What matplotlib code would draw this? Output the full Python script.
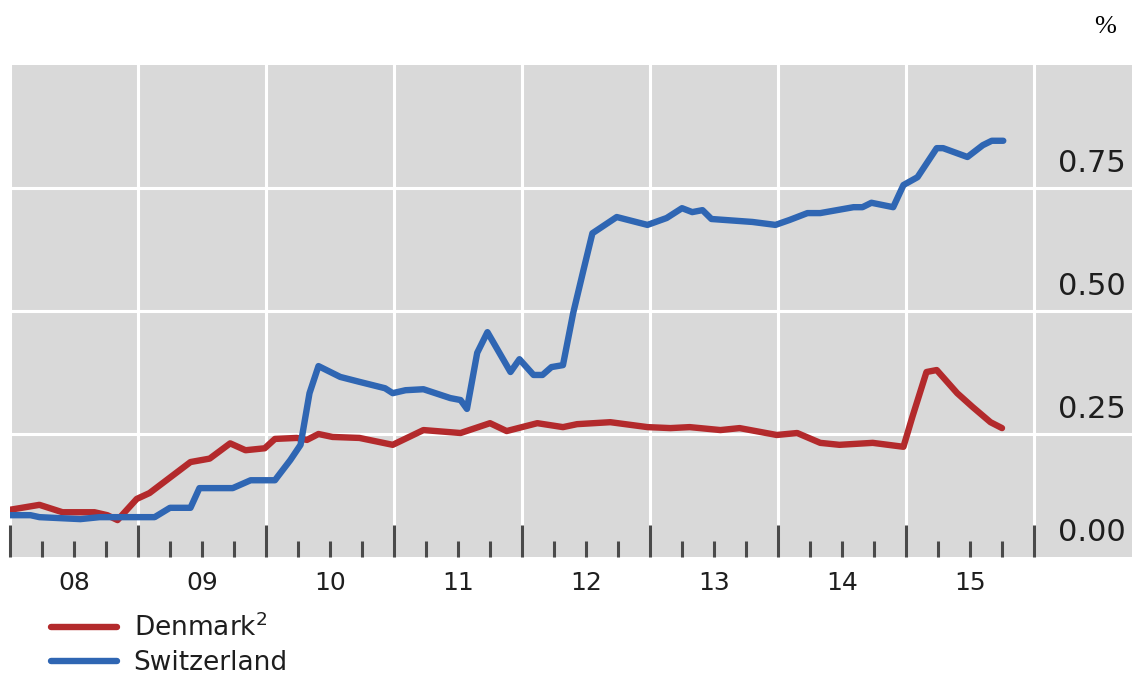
import matplotlib.pyplot as plt
from matplotlib.ticker import FixedLocator, NullFormatter

# Data (decimal years, %)
swiss_t = [2008.00, 2008.16, 2008.23, 2008.55, 2008.70, 2008.94, 2009.13, 2009.25,
           2009.41, 2009.48, 2009.74, 2009.88, 2010.07, 2010.09, 2010.19, 2010.27,
           2010.34, 2010.41, 2010.58, 2010.73, 2010.93, 2010.99, 2011.09, 2011.23,
           2011.44, 2011.52, 2011.57, 2011.65, 2011.73, 2011.91, 2011.98, 2012.09,
           2012.16, 2012.23, 2012.32, 2012.40, 2012.48, 2012.55, 2012.74, 2012.98,
           2013.13, 2013.25, 2013.33, 2013.41, 2013.48, 2013.80, 2013.98, 2014.09,
           2014.23, 2014.33, 2014.59, 2014.66, 2014.73, 2014.90, 2014.98, 2015.09,
           2015.24, 2015.29, 2015.48, 2015.60, 2015.67, 2015.76]
swiss_v = [0.085, 0.085, 0.081, 0.077, 0.081, 0.081, 0.081, 0.100,
           0.100, 0.140, 0.140, 0.156, 0.156, 0.163, 0.197, 0.228,
           0.333, 0.388, 0.366, 0.356, 0.343, 0.333, 0.339, 0.341,
           0.323, 0.319, 0.301, 0.415, 0.457, 0.376, 0.402, 0.370,
           0.370, 0.386, 0.390, 0.496, 0.583, 0.658, 0.691, 0.675,
           0.689, 0.709, 0.701, 0.705, 0.687, 0.681, 0.675, 0.685,
           0.699, 0.699, 0.711, 0.711, 0.720, 0.711, 0.756, 0.772,
           0.831, 0.831, 0.813, 0.837, 0.846, 0.846]

denmark_t = [2008.00, 2008.23, 2008.41, 2008.66, 2008.76, 2008.84, 2008.99, 2009.09,
             2009.41, 2009.56, 2009.72, 2009.84, 2009.99, 2010.07, 2010.24, 2010.32,
             2010.41, 2010.52, 2010.73, 2010.99, 2011.23, 2011.52, 2011.75, 2011.88,
             2012.12, 2012.32, 2012.43, 2012.69, 2012.98, 2013.16, 2013.31, 2013.55,
             2013.70, 2013.99, 2014.15, 2014.33, 2014.48, 2014.74, 2014.98, 2015.05,
             2015.16, 2015.24, 2015.40, 2015.52, 2015.66, 2015.75]
denmark_v = [0.096, 0.106, 0.091, 0.091, 0.085, 0.075, 0.118, 0.130,
             0.193, 0.200, 0.231, 0.217, 0.221, 0.240, 0.242, 0.238,
             0.250, 0.244, 0.242, 0.228, 0.258, 0.252, 0.272, 0.256,
             0.272, 0.264, 0.270, 0.274, 0.264, 0.262, 0.264, 0.258,
             0.262, 0.248, 0.252, 0.232, 0.228, 0.232, 0.224, 0.285,
             0.376, 0.380, 0.333, 0.305, 0.274, 0.262]

years = list(range(2008, 2016))
year_labels = ['08', '09', '10', '11', '12', '13', '14', '15']
y_levels = [0.00, 0.25, 0.50, 0.75]
y_labels = ['0.00', '0.25', '0.50', '0.75']

red = '#b32a2c'
blue = '#2f66b3'
txt = '#1e1e1e'

fig = plt.figure(figsize=(11.32, 6.75), dpi=100)
ax = fig.add_axes([10 / 1132, 118 / 675, 1122 / 1132, 492 / 675])
ax.set_facecolor('#d9d9d9')
for s in ax.spines.values():
    s.set_visible(False)

ax.set_xlim(2008, 2008 + 1122 / 128)
ax.set_ylim(0, 1.0)

# grid lines at year boundaries and every 0.25
ax.xaxis.set_major_locator(FixedLocator(range(2008, 2017)))
ax.xaxis.set_minor_locator(FixedLocator([y + q / 4 for y in range(2008, 2016) for q in (1, 2, 3)]))
ax.xaxis.set_major_formatter(NullFormatter())
ax.set_yticks([0.25, 0.5, 0.75])
ax.set_yticklabels([])
ax.grid(True, which='major', color='white', linewidth=2.2)
ax.set_axisbelow(True)
ax.tick_params(axis='y', length=0)
ax.tick_params(axis='x', which='major', direction='in', length=23, width=2.2, color='#4a4a4a')
ax.tick_params(axis='x', which='minor', direction='in', length=11.5, width=2.2, color='#4a4a4a')

l1, = ax.plot(denmark_t, denmark_v, color=red, lw=4.6, solid_joinstyle='round',
              solid_capstyle='round', label='Denmark$^2$')
l2, = ax.plot(swiss_t, swiss_v, color=blue, lw=4.6, solid_joinstyle='round',
              solid_capstyle='round', label='Switzerland')

# year labels, centred on each year
for y, lab in zip(years, year_labels):
    ax.text(y + 0.5, -0.053, lab, transform=ax.get_xaxis_transform(),
            ha='center', va='center', fontsize=18, color=txt)

# value labels on the right, just above each grid line
for v, lab in zip(y_levels, y_labels):
    ax.text(2016.19, v + 0.02, lab, ha='left', va='bottom', fontsize=22, color=txt)

fig.text(1105 / 1132, 1 - 27 / 675, '%', ha='center', va='center',
         fontsize=19, family='Liberation Serif', color='black')

fig.legend(handles=[l1, l2], loc='upper left', bbox_to_anchor=(40 / 1132, 1 - 603 / 675),
           frameon=False, fontsize=19, handlelength=2.5, handletextpad=0.65,
           labelspacing=0.3, borderaxespad=0, labelcolor=txt)

fig.savefig('out.png', dpi=100)
